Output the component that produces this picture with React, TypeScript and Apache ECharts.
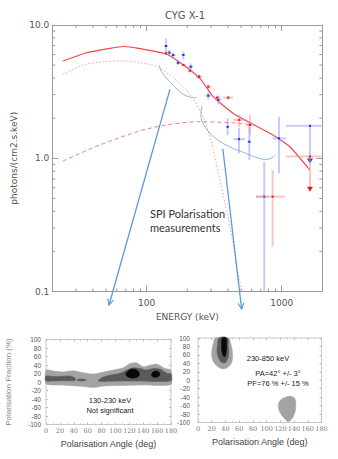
import React, { useEffect, useRef } from "react";
import * as echarts from "echarts";

// ---------------- Top panel: CYG X-1 spectrum ----------------
const energyMin = 20;
const energyMax = 2000;
const fluxMin = 0.1;
const fluxMax = 10;

// total model (solid red)
const modelE = [24, 36, 53.5, 67, 87, 140, 187, 248, 311, 438, 866, 1150, 1620];
const modelF = [5.37, 6.2, 6.68, 6.9, 6.68, 6.06, 5.01, 3.98, 2.9, 2.17, 1.49, 1.22, 0.816];

// thermal comptonisation component (dotted)
const thermalE = [24, 34, 48, 71, 89, 119, 187, 248, 294, 311, 414, 491, 516];
const thermalF = [4.27, 5.01, 5.3, 5.37, 5.21, 4.86, 3.44, 2.3, 1.45, 1.15, 0.306, 0.115, 0.1];

// non-thermal component (dashed)
const powerE = [24, 45, 106, 248, 491, 600];
const powerF = [0.954, 1.257, 1.68, 1.88, 1.83, 1.78];

// data points: [E, F, Elo, Ehi, Flo, Fhi, upperLimit(0/1)]
const spiBlue = [
  [139, 6.95, 134, 144, 5.95, 7.9, 0],
  [147, 6.2, 142, 153, 5.9, 6.5, 0],
  [157, 5.95, 151, 164, 5.7, 6.2, 0],
  [187, 5.95, 181, 193, 5.5, 6.3, 0],
  [171, 5.21, 165, 178, 5.0, 5.45, 0],
  [212, 4.86, 203, 222, 4.6, 5.15, 0],
  [244, 4.09, 232, 256, 3.95, 4.25, 0],
  [286, 2.95, 272, 300, 2.75, 3.15, 0],
  [339, 2.74, 322, 357, 2.55, 2.95, 0],
  [398, 1.72, 390, 406, 1.49, 2.0, 0],
  [483, 1.39, 438, 535, 1.09, 1.68, 0],
  [576, 1.33, 560, 592, 0.97, 1.83, 0],
  [955, 1.41, 857, 1077, 0.77, 2.05, 0],
  [1621, 1.75, 1077, 1977, 0.93, 1.75, 1],
  [743, 0.515, 646, 800, 0.1, 0.94, 0],
];
const spiRed = [
  [139, 6.13, 133, 146, 6.0, 6.3, 0],
  [187, 5.01, 180, 194, 4.9, 5.15, 0],
  [209.5, 4.54, 201, 218, 4.4, 4.7, 0],
  [244, 4.09, 232, 256, 4.0, 4.2, 0],
  [286, 3.44, 270, 302, 3.3, 3.6, 0],
  [333, 2.85, 315, 352, 2.75, 2.95, 0],
  [402, 2.85, 369, 438, 2.75, 2.95, 0],
  [485, 1.94, 438, 543, 1.72, 2.11, 0],
  [582, 1.78, 548, 618, 1.49, 2.11, 0],
  [1621, 1.03, 1077, 1977, 0.571, 1.03, 1],
  [857, 0.515, 646, 1057, 0.217, 0.816, 0],
];

// annotation curves (light blue)
const curve1E = [124, 129, 149, 176.5, 203, 234.6];
const curve1F = [5.01, 4.46, 3.75, 3.16, 2.9, 2.85];
const curve2E = [257, 252, 265, 294, 337, 414, 535, 667, 765, 847, 892];
const curve2F = [2.48, 2.11, 1.776, 1.547, 1.37, 1.214, 1.095, 1.004, 0.979, 1.004, 1.058];

// annotation arrows (from, to) in data units
const arrow1From = [148.8, 3.29];
const arrow1To = [52.6, 0.0792];
const arrow2From = [367, 1.173];
const arrow2To = [505, 0.0739];

const xMinorTicks = [30, 40, 50, 60, 70, 80, 90, 200, 300, 400, 500, 600, 700, 800, 900];
const yMinorTicks = [0.2, 0.3, 0.4, 0.5, 0.6, 0.7, 0.8, 0.9, 2, 3, 4, 5, 6, 7, 8, 9];

// ---------------- Bottom panels: polarisation contours ----------------
const angleMin = 0, angleMax = 180, angleStep = 20;
const fracMin = -100, fracMax = 100, fracStep = 20;

// 130-230 keV
const leftLight = [
  [0, 28.2], [10.6, 25.9], [25, 23.8], [39.4, 26.6], [53.8, 21.8], [68, 18.6], [77.8, 21.8],
  [97, 28.2], [111.4, 33.6], [121, 43.7], [130.6, 45.3], [140, 36], [149.8, 39.7], [159.4, 42.1],
  [171.4, 32], [180, 28.2],
  [180, -6], [140, -7], [100, -8.5], [80, -10], [70, -13], [55, -11], [40, -9], [20, -7], [0, -4.5],
];
const leftMidA = [
  [0, 14.3], [12, 12.8], [25, 13.5], [34, 14.3], [40, 11], [43, 7], [41, 3.2], [25, 3], [10, 2.5], [0, 2.5],
];
const leftMidB = [[45, 5], [50, 7], [56, 6.5], [58.5, 4.5], [53, 2.5], [47, 3]];
const leftMidC = [
  [75.4, 4], [80, 10], [87.4, 14.3], [106.6, 20.5], [116.2, 28.2], [125.8, 33.6], [135.4, 32],
  [145, 28.2], [154.6, 32], [164.2, 30.4], [173.8, 20.5], [180, 18.6],
  [180, 2.5], [120, 2.5], [90, 2], [76, 1.5],
];
const leftBlack1 = [[115, 17], [117, 24], [121, 29], [126, 30.4], [131, 27.5], [134.5, 20], [133, 13], [127, 9.6], [120, 10.5]];
const leftBlack2 = [[152, 17], [154, 23], [158, 25.8], [162, 24], [164, 18], [162, 13], [157, 11.2], [153, 13]];

// 230-850 keV
const rightLight1 = [
  [25.8, 100], [22.3, 85.7], [19.9, 66], [20.9, 50.2], [25.8, 36.8], [33.5, 28.1], [38.4, 27.3],
  [44.2, 32], [49.1, 42.3], [50.5, 58.1], [49.1, 77.8], [45.7, 97.5], [44.2, 100],
];
const rightMid1 = [
  [30.6, 100], [28.7, 85.7], [27.7, 66], [30.6, 50.2], [35.4, 41.5], [40.3, 42.5], [44.2, 56], [44.2, 81.9], [42.7, 100],
];
const rightBlack1 = [
  [35.4, 100], [34.4, 85.7], [35, 66], [38.4, 55], [40.8, 64], [41.8, 85.7], [40.8, 100],
];
const rightLight2 = [
  [119.5, -48.4], [126.8, -40.6], [136.5, -38.2], [141.4, -44.5], [142.4, -64.2], [140.4, -80],
  [136.5, -91.8], [131.7, -97.4], [126.8, -91.8], [121, -80], [117.1, -64.2],
];

const LIGHT = "#a3a3a3";
const MID = "#5a5a5a";
const DARK = "#080808";

const leftShapes = [
  { pts: leftLight, color: LIGHT, smooth: 0.2 },
  { pts: leftMidA, color: MID, smooth: 0.3 },
  { pts: leftMidB, color: MID, smooth: 0.4 },
  { pts: leftMidC, color: MID, smooth: 0.2 },
  { pts: leftBlack1, color: DARK, smooth: 0.5 },
  { pts: leftBlack2, color: DARK, smooth: 0.5 },
];
const rightShapes = [
  { pts: rightLight1, color: LIGHT, smooth: 0.4 },
  { pts: rightMid1, color: MID, smooth: 0.4 },
  { pts: rightBlack1, color: DARK, smooth: 0.4 },
  { pts: rightLight2, color: LIGHT, smooth: 0.45 },
];

function zip(a: number[], b: number[]) {
  return a.map((v, i) => [v, b[i]]);
}

function isDecade(v: number) {
  const l = Math.log10(v);
  return Math.abs(l - Math.round(l)) < 1e-6;
}

function errorRender(barColor: string, pointColor: string) {
  return (params: any, api: any) => {
    const E = api.value(0), F = api.value(1);
    const c = api.coord([E, F]);
    const lo = api.coord([api.value(2), F]);
    const hi = api.coord([api.value(3), F]);
    const b = api.coord([E, api.value(4)]);
    const t = api.coord([E, api.value(5)]);
    const children: any[] = [
      { type: "line", shape: { x1: lo[0], y1: c[1], x2: hi[0], y2: c[1] }, style: { stroke: barColor, lineWidth: 2 } },
      { type: "line", shape: { x1: c[0], y1: t[1], x2: c[0], y2: b[1] }, style: { stroke: barColor, lineWidth: 2 } },
      { type: "rect", shape: { x: c[0] - 1, y: c[1] - 1, width: 2, height: 2 }, style: { fill: pointColor } },
    ];
    if (api.value(6) === 1) {
      children.push({
        type: "polygon",
        shape: { points: [[b[0] - 3, b[1] - 4], [b[0] + 3, b[1] - 4], [b[0], b[1] + 1]] },
        style: { fill: pointColor },
      });
    }
    return { type: "group", children };
  };
}

function minorRenderX(params: any, api: any) {
  const cs = params.coordSys;
  const p = api.coord([api.value(0), 1]);
  const bot = cs.y + cs.height;
  return {
    type: "group",
    children: [
      { type: "line", shape: { x1: p[0], y1: bot, x2: p[0], y2: bot - 3 }, style: { stroke: "#999", lineWidth: 1 } },
      { type: "line", shape: { x1: p[0], y1: cs.y, x2: p[0], y2: cs.y + 3 }, style: { stroke: "#999", lineWidth: 1 } },
    ],
  };
}
function minorRenderY(params: any, api: any) {
  const cs = params.coordSys;
  const p = api.coord([100, api.value(1)]);
  const right = cs.x + cs.width;
  return {
    type: "group",
    children: [
      { type: "line", shape: { x1: cs.x, y1: p[1], x2: cs.x + 3, y2: p[1] }, style: { stroke: "#999", lineWidth: 1 } },
      { type: "line", shape: { x1: right, y1: p[1], x2: right - 3, y2: p[1] }, style: { stroke: "#999", lineWidth: 1 } },
    ],
  };
}

function shapeRender(shapes: any[]) {
  return (params: any, api: any) => {
    const s = shapes[api.value(2)];
    const pts = s.pts.map((p: number[]) => api.coord(p));
    return {
      type: "polygon",
      shape: { points: pts, smooth: s.smooth },
      style: { fill: s.color, stroke: s.color, lineWidth: 0.5 },
    };
  };
}

const FONT = "DejaVu Sans";
const AX = "#999";

function logAxisCommon(extra: any) {
  return Object.assign(
    {
      type: "log",
      logBase: 10,
      axisLine: { show: true, onZero: false, lineStyle: { color: AX, width: 1 } },
      axisTick: { show: true, inside: true, length: 6, lineStyle: { color: AX } },
      splitLine: { show: false },
      minorTick: { show: false },
    },
    extra
  );
}

function panelXAxis(gridIndex: number, position: string, showLabel: boolean) {
  return {
    type: "value",
    gridIndex,
    position,
    min: angleMin,
    max: angleMax,
    interval: angleStep,
    axisLine: { show: false, onZero: false },
    axisTick: { show: true, inside: true, length: 2, lineStyle: { color: "#bbb" } },
    minorTick: { show: true, splitNumber: 2, length: 1.5, lineStyle: { color: "#ccc" } },
    splitLine: { show: false },
    axisLabel: showLabel
      ? { show: true, fontFamily: "DejaVu Serif", fontSize: 6.5, color: "#777", margin: 3 }
      : { show: false },
    name: showLabel ? "Polarisation Angle (deg)" : "",
    nameLocation: "middle",
    nameGap: 15,
    nameTextStyle: { fontFamily: "Liberation Sans", fontSize: 9, color: "#444" },
  };
}
function panelYAxis(gridIndex: number, position: string, showLabel: boolean, margin: number, name: string) {
  return {
    type: "value",
    gridIndex,
    position,
    min: fracMin,
    max: fracMax,
    interval: fracStep,
    axisLine: { show: false, onZero: false },
    axisTick: { show: true, inside: true, length: 2, lineStyle: { color: "#bbb" } },
    splitLine: { show: false },
    axisLabel: showLabel
      ? { show: true, fontFamily: "Liberation Sans", fontSize: 6.5, color: "#555", margin }
      : { show: false },
    name,
    nameLocation: "middle",
    nameRotate: 90,
    nameGap: 34,
    nameTextStyle: { fontFamily: "Liberation Sans", fontSize: 8, color: "#888" },
  };
}

function buildOption(): any {
  return {
    animation: false,
    backgroundColor: "#ffffff",
    grid: [
      { left: 52.3, top: 25, width: 270, height: 266.5, containLabel: false },
      { left: 46, top: 339.5, width: 125, height: 85, show: true, borderColor: "#c8c8c8", borderWidth: 1, backgroundColor: "transparent" },
      { left: 198, top: 338, width: 123.5, height: 84.5, show: true, borderColor: "#c8c8c8", borderWidth: 1, backgroundColor: "transparent" },
    ],
    xAxis: [
      logAxisCommon({
        gridIndex: 0,
        position: "bottom",
        min: energyMin,
        max: energyMax,
        axisLabel: {
          show: true,
          fontFamily: FONT,
          fontSize: 9,
          color: "#555",
          margin: 7,
          formatter: (v: number) => (isDecade(v) && v > 50 && v < 1500 ? String(Math.round(v)) : ""),
        },
        name: "ENERGY (keV)",
        nameLocation: "middle",
        nameGap: 18,
        nameTextStyle: { fontFamily: FONT, fontSize: 9, color: "#555" },
      }),
      logAxisCommon({
        gridIndex: 0,
        position: "top",
        min: energyMin,
        max: energyMax,
        axisLabel: { show: false },
      }),
      panelXAxis(1, "bottom", true),
      panelXAxis(1, "top", false),
      panelXAxis(2, "bottom", true),
      panelXAxis(2, "top", false),
    ],
    yAxis: [
      logAxisCommon({
        gridIndex: 0,
        position: "left",
        min: fluxMin,
        max: fluxMax,
        axisLabel: {
          show: true,
          fontFamily: FONT,
          fontSize: 9,
          color: "#555",
          margin: 3,
          showMinLabel: true,
          showMaxLabel: true,
          formatter: (v: number) => v.toFixed(1),
        },
        name: "photons/(cm2.s.keV)",
        nameLocation: "middle",
        nameRotate: 90,
        nameGap: 25,
        nameTextStyle: { fontFamily: FONT, fontSize: 9, color: "#555" },
      }),
      logAxisCommon({
        gridIndex: 0,
        position: "right",
        min: fluxMin,
        max: fluxMax,
        axisLabel: { show: false },
      }),
      panelYAxis(1, "left", true, 5, "Polarisation Fraction (%)"),
      panelYAxis(1, "right", false, 0, ""),
      panelYAxis(2, "left", true, 8, ""),
      panelYAxis(2, "right", false, 0, ""),
    ],
    series: [
      {
        type: "custom",
        xAxisIndex: 0,
        yAxisIndex: 0,
        renderItem: minorRenderX,
        data: xMinorTicks.map((v) => [v, 1]),
        silent: true,
        z: 1,
      },
      {
        type: "custom",
        xAxisIndex: 0,
        yAxisIndex: 0,
        renderItem: minorRenderY,
        data: yMinorTicks.map((v) => [100, v]),
        silent: true,
        z: 1,
      },
      {
        type: "line",
        xAxisIndex: 0,
        yAxisIndex: 0,
        data: zip(thermalE, thermalF),
        showSymbol: false,
        smooth: 0.3,
        lineStyle: { color: "#f4a2a2", width: 1, type: [1.5, 2] },
        z: 2,
      },
      {
        type: "line",
        xAxisIndex: 0,
        yAxisIndex: 0,
        data: zip(powerE, powerF),
        showSymbol: false,
        smooth: 0.3,
        lineStyle: { color: "#f37f7f", width: 1, type: [4, 3] },
        z: 2,
      },
      {
        type: "line",
        xAxisIndex: 0,
        yAxisIndex: 0,
        data: zip(curve1E, curve1F),
        showSymbol: false,
        smooth: 0.4,
        lineStyle: { color: "#8db6e4", width: 1 },
        z: 3,
      },
      {
        type: "line",
        xAxisIndex: 0,
        yAxisIndex: 0,
        data: zip(curve2E, curve2F),
        showSymbol: false,
        smooth: 0.3,
        lineStyle: { color: "#8db6e4", width: 1 },
        z: 3,
      },
      {
        type: "line",
        xAxisIndex: 0,
        yAxisIndex: 0,
        data: zip(modelE, modelF),
        showSymbol: false,
        smooth: 0.15,
        lineStyle: { color: "#f04545", width: 1.1 },
        z: 4,
      },
      {
        type: "custom",
        xAxisIndex: 0,
        yAxisIndex: 0,
        renderItem: errorRender("rgba(140,150,245,0.5)", "#2a2ae0"),
        data: spiBlue,
        z: 5,
      },
      {
        type: "custom",
        xAxisIndex: 0,
        yAxisIndex: 0,
        renderItem: errorRender("rgba(246,140,140,0.5)", "#f01818"),
        data: spiRed,
        z: 6,
      },
      {
        type: "custom",
        xAxisIndex: 2,
        yAxisIndex: 2,
        renderItem: shapeRender(leftShapes),
        data: leftShapes.map((s, i) => [s.pts[0][0], s.pts[0][1], i]),
        z: 2,
      },
      {
        type: "custom",
        xAxisIndex: 4,
        yAxisIndex: 4,
        renderItem: shapeRender(rightShapes),
        data: rightShapes.map((s, i) => [s.pts[0][0], s.pts[0][1], i]),
        z: 2,
      },
    ],
  };
}

function arrowGraphic(p0: number[], p1: number[]) {
  if (!p0 || !p1) return [];
  const dx = p1[0] - p0[0], dy = p1[1] - p0[1];
  const len = Math.sqrt(dx * dx + dy * dy);
  const ux = dx / len, uy = dy / len;
  const px = -uy, py = ux;
  const bx = p1[0] - ux * 6, by = p1[1] - uy * 6;
  const stroke = "#5b9bd5";
  return [
    { type: "line", shape: { x1: p0[0], y1: p0[1], x2: p1[0], y2: p1[1] }, style: { stroke, lineWidth: 1.3 }, z: 10 },
    {
      type: "polyline",
      shape: { points: [[bx + px * 3, by + py * 3], [p1[0], p1[1]], [bx - px * 3, by - py * 3]] },
      style: { stroke, lineWidth: 1.1, fill: "none" },
      z: 10,
    },
  ];
}

export default function App() {
  const ref = useRef<HTMLDivElement>(null);
  useEffect(() => {
    const chart = echarts.init(ref.current as HTMLDivElement, null, { renderer: "svg" });
    chart.setOption(buildOption());
    const conv = (v: number[]) => {
      try {
        return chart.convertToPixel({ xAxisIndex: 0, yAxisIndex: 0 } as any, v) as any;
      } catch (e) {
        return null;
      }
    };
    const txt = (text: string, x: number, y: number, size: number, family: string, color: string, align = "center") => ({
      type: "text",
      x,
      y,
      z: 20,
      style: { text, fontSize: size, fontFamily: family, fill: color, textAlign: align, textVerticalAlign: "middle", verticalAlign: "middle" },
    });
    chart.setOption({
      graphic: [
        txt("CYG X-1", 185, 15, 10, FONT, "#555"),
        ...arrowGraphic(conv(arrow1From), conv(arrow1To)),
        ...arrowGraphic(conv(arrow2From), conv(arrow2To)),
        txt("SPI Polarisation", 150, 213.5, 11, "Lato", "#333", "left"),
        txt("measurements", 150, 227.5, 11, "Lato", "#333", "left"),
        txt("130-230 keV", 110, 400, 7.5, "Liberation Sans", "#222"),
        txt("Not significant", 110, 410.5, 7.5, "Liberation Sans", "#222"),
        txt("230-850 keV", 268, 358.5, 7.5, "Liberation Sans", "#222"),
        txt("PA=42° +/- 3°", 278, 373.5, 7.5, "Liberation Sans", "#222"),
        txt("PF=76 % +/- 15 %", 278, 383, 7.5, "Liberation Sans", "#222"),
      ],
    });
    return () => chart.dispose();
  }, []);
  return (
    <div
      ref={ref}
      style={{ position: "absolute", left: 0, top: 0, width: 338, height: 459, background: "#ffffff" }}
    />
  );
}
